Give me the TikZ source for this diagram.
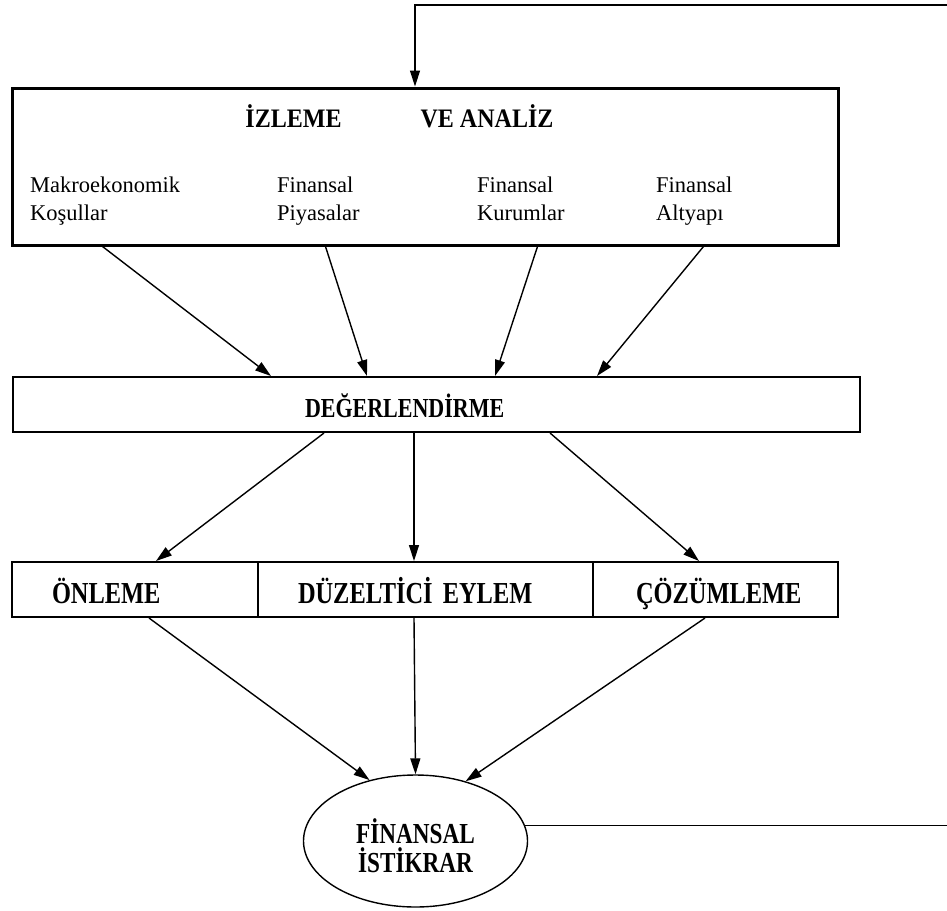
\documentclass[tikz,border=0pt]{standalone}
\usepackage{fontspec}
\setmainfont{Liberation Serif}
\newfontfamily\condbf{Liberation Serif Bold}[FakeStretch=0.8]
\newfontfamily\titlebf{Liberation Serif Bold}[FakeStretch=0.9]
\usetikzlibrary{shapes.geometric, arrows.meta}
\tikzset{
	x=1pt, y=-1pt, % coordinates in points, y grows downwards
	>={Triangle[length=16pt,width=10pt]}, % filled arrow heads
	arr/.style={->, line width=1.4pt}, % every connector
	bigbox/.style={draw, rectangle, line width=3pt, minimum width=826pt, minimum height=157pt}, % the monitoring box
	rowbox/.style={draw, rectangle, line width=2pt, minimum height=55pt, align=left, inner ysep=0pt, text height=27pt, text depth=0pt, font=\fontsize{30.5}{34}\condbf}, % the flat boxes
	sub/.style={anchor=base west, align=left, inner sep=0pt, font=\fontsize{22.5}{28}\selectfont}, % the four areas
	title/.style={anchor=base, inner sep=0pt, font=\fontsize{26.7}{30}\titlebf},
}
\begin{document}
\begin{tikzpicture}
	\useasboundingbox (0,0) rectangle (947,910);
	\clip (0,0) rectangle (947,910);
	\node[bigbox] (izleme) at (425,166.5) {};
	\node[title] (iz) at (293.5,127) {İZLEME};
	\node[title] (ve) at (487,127) {VE ANALİZ};
	\node[sub] (makro) at (30,220) {Makroekonomik\\Koşullar};
	\node[sub] (piyasa) at (277,220) {Finansal\\Piyasalar};
	\node[sub] (kurum) at (477,220) {Finansal\\Kurumlar};
	\node[sub] (altyapi) at (656,220) {Finansal\\Altyapı};
	\node[rowbox, font=\fontsize{27.5}{32}\condbf, text height=25pt, inner xsep=292pt, text width=263pt] (deger) at (436.5,404.5) {DEĞERLENDİRME};
	\node[rowbox, inner xsep=40pt, text width=166pt] (onleme) at (135,589.5) {ÖNLEME};
	\node[rowbox, inner xsep=40pt, text width=255pt] (duzel) at (425.5,589.5) {DÜZELTİCİ EYLEM};
	\node[rowbox, inner xsep=43pt, text width=159pt] (cozum) at (715.5,589.5) {ÇÖZÜMLEME};
	\node[draw, ellipse, line width=1.4pt, minimum width=224pt, minimum height=132pt, align=center, inner sep=0pt, text height=62pt, text depth=0pt, font=\fontsize{29}{29}\condbf] (fin) at (415.5,841) {FİNANSAL\\İSTİKRAR};
	\coordinate (fb) at (962,5);
	\draw[arr] ([xshift=92pt]izleme.south west) -- ([xshift=259pt]deger.north west);
	\draw[arr] ([xshift=315pt]izleme.south west) -- ([xshift=355pt]deger.north west);
	\draw[arr] ([xshift=527pt]izleme.south west) -- ([xshift=483pt]deger.north west);
	\draw[arr] ([xshift=693pt]izleme.south west) -- ([xshift=585pt]deger.north west);
	\draw[arr] ([xshift=312pt]deger.south west) -- ([xshift=145pt]onleme.north west);
	\draw[arr] ([xshift=402pt]deger.south west) -- ([xshift=157pt]duzel.north west);
	\draw[arr] ([xshift=538pt]deger.south west) -- ([xshift=107pt]cozum.north west);
	\draw[arr] ([xshift=138pt]onleme.south west) -- (fin.127);
	\draw[arr] ([xshift=157pt]duzel.south west) -- (fin.north);
	\draw[arr] ([xshift=113pt]cozum.south west) -- (fin.50);
	\draw[arr] (fin.8) -| (fb) -| ([xshift=-10pt]izleme.north);
\end{tikzpicture}
\end{document}
